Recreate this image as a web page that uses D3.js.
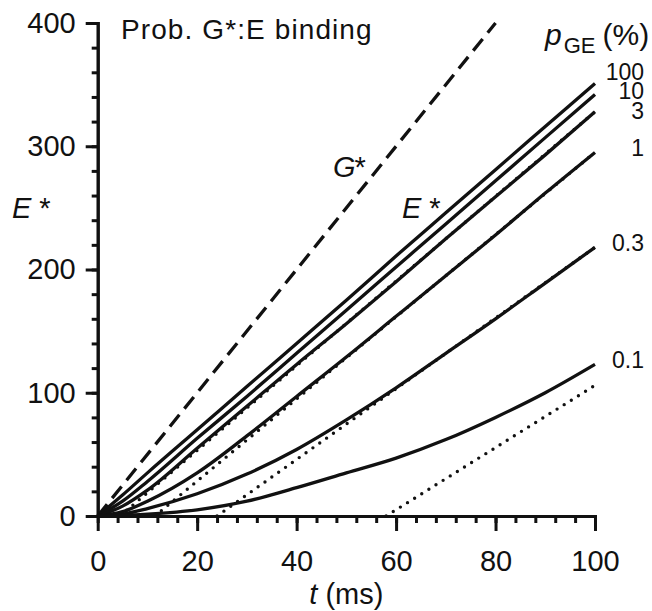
<!DOCTYPE html>
<html>
<head>
<meta charset="utf-8">
<script src="https://cdn.jsdelivr.net/npm/d3@7"></script>
<style>
  body { margin: 0; background: #fff; }
  svg { display: block; }
  text { font-family: "Liberation Sans", Arial, Helvetica, sans-serif; fill: #111; }
  .axis path, .axis line { stroke: #111; stroke-width: 3; }
  .axis text { font-size: 29px; }
</style>
</head>
<body>
<svg id="chart" width="652" height="611"></svg>
<script>
// time points (ms) for the E* curves
const tMs = [0, 5, 10, 20, 30, 40, 50, 60, 70, 80, 90, 100];

// E* for each binding probability pGE (%)
const pLabels = ['100', '10', '3', '1', '0.3', '0.1'];
const e100 = [0, 17, 35, 70, 105, 140, 175, 211, 246, 281, 316, 351];
const e10  = [0, 12, 28, 63, 97, 132, 167, 202, 237, 272, 307, 342];
const e3   = [0, 8, 21, 55, 89, 123, 156, 190, 225, 259, 293, 328];
const e1   = [0, 3.5, 12, 35, 65, 97, 129, 162, 195, 228, 262, 295];
const e03  = [0, 1.5, 6, 18, 34, 54, 78, 104, 132, 160, 189, 218];
const e01  = [0, 0.4, 1.5, 5, 12, 23, 35, 47, 62, 80, 100, 123];

// G* released (dashed line)
const gT = [0, 80];
const gVal = [0, 400];

// dotted asymptotes: [start t, end t], [start E*, end E*]
const asymT   = [[58, 100], [24, 100], [11.5, 100], [4.5, 100]];
const asymVal = [[0, 106], [0, 218], [0, 295], [0, 328]];

const xTicks = [0, 20, 40, 60, 80, 100];
const yTicks = [0, 100, 200, 300, 400];

const svg = d3.select('#chart');
const x = d3.scaleLinear().domain([0, 100]).range([97.7, 595]);
const y = d3.scaleLinear().domain([0, 400]).range([516, 23]);

// axes: minor ticks first, then labelled majors
svg.append('g').attr('class', 'axis')
    .attr('transform', `translate(0,${y(0)})`)
    .call(d3.axisBottom(x).tickValues(d3.range(0, 101, 4)).tickSize(7).tickSizeOuter(0).tickFormat(''));
svg.append('g').attr('class', 'axis')
    .attr('transform', `translate(0,${y(0)})`)
    .call(d3.axisBottom(x).tickValues(xTicks).tickSize(15).tickSizeOuter(0).tickPadding(19));
svg.append('g').attr('class', 'axis')
    .attr('transform', `translate(${x(0)},0)`)
    .call(d3.axisLeft(y).tickValues(d3.range(0, 401, 20)).tickSize(6).tickSizeOuter(0).tickFormat(''));
svg.append('g').attr('class', 'axis')
    .attr('transform', `translate(${x(0)},0)`)
    .call(d3.axisLeft(y).tickValues(yTicks).tickSize(12).tickSizeOuter(0).tickPadding(10));
svg.selectAll('.axis .domain').attr('stroke-linecap', 'square');

const line = d3.line().x(d => x(d[0])).y(d => y(d[1]));
const curve = d3.line().x(d => x(d[0])).y(d => y(d[1])).curve(d3.curveMonotoneX);

// dotted asymptotes
asymT.forEach((ts, i) => {
    svg.append('path')
        .attr('d', line(ts.map((t, j) => [t, asymVal[i][j]])))
        .attr('fill', 'none').attr('stroke', '#111')
        .attr('stroke-width', 3.4).attr('stroke-linecap', 'round')
        .attr('stroke-dasharray', '0 8.4');
});

// G* dashed
svg.append('path')
    .attr('d', line(gT.map((t, j) => [t, gVal[j]])))
    .attr('fill', 'none').attr('stroke', '#111')
    .attr('stroke-width', 3.3).attr('stroke-dasharray', '15 8');

// E* curves
const series = [e100, e10, e3, e1, e03, e01];
series.forEach(vals => {
    svg.append('path')
        .attr('d', curve(tMs.map((t, j) => [t, vals[j]])))
        .attr('fill', 'none').attr('stroke', '#111')
        .attr('stroke-width', 3.3).attr('stroke-linejoin', 'round');
});

// series labels at the right (stacked tight, as in the original)
const nudge = {'100': -7, '10': 1, '3': 3};
series.forEach((vals, i) => {
    const lab = pLabels[i];
    svg.append('text')
        .attr('x', 644).attr('y', y(vals[vals.length - 1]) + 4 + (nudge[lab] || 0))
        .attr('text-anchor', 'end').attr('font-size', 23)
        .text(lab);
});

// legend header pGE (%)
const hdr = svg.append('text').attr('x', 545).attr('y', 45).attr('font-size', 30);
hdr.append('tspan').attr('font-style', 'italic').text('p');
hdr.append('tspan').attr('font-size', 22).attr('dy', 8).attr('dx', 2).text('GE');
hdr.append('tspan').attr('dy', -8).attr('dx', 7).text('(%)');

// title
svg.append('text').attr('x', 121).attr('y', 39).attr('font-size', 28)
    .attr('letter-spacing', 1.1)
    .text('Prob. G*:E binding');

// curve annotations
const gl = svg.append('text').attr('x', 333).attr('y', 177).attr('font-size', 29);
gl.append('tspan').attr('font-style', 'italic').text('G');
gl.append('tspan').attr('dx', -1).text('*');

const el = svg.append('text').attr('x', 402).attr('y', 218).attr('font-size', 29);
el.append('tspan').attr('font-style', 'italic').text('E');
el.append('tspan').attr('dx', 8).text('*');

// axis titles
const yl = svg.append('text').attr('x', 12).attr('y', 218).attr('font-size', 29);
yl.append('tspan').attr('font-style', 'italic').text('E');
yl.append('tspan').attr('dx', 8).text('*');

const xl = svg.append('text').attr('x', x(50)).attr('y', 604)
    .attr('text-anchor', 'middle').attr('font-size', 29);
xl.append('tspan').attr('font-style', 'italic').text('t');
xl.append('tspan').text(' (ms)');
</script>
</body>
</html>
